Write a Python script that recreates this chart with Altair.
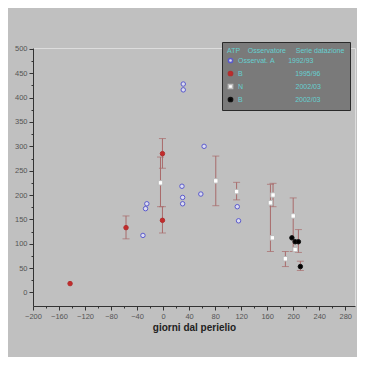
import altair as alt
import pandas as pd

series_names = [
    "Osservat.\u00a0A\u00a0\u00a0\u00a0\u00a0\u00a0\u00a0\u00a01992/93",
    "B\u00a0\u00a0\u00a0\u00a0\u00a0\u00a0\u00a0\u00a0\u00a0\u00a0\u00a0\u00a0\u00a0\u00a0\u00a0\u00a0\u00a0\u00a0\u00a0\u00a0\u00a0\u00a0\u00a0\u00a0\u00a0\u00a0\u00a01995/96",
    "N\u00a0\u00a0\u00a0\u00a0\u00a0\u00a0\u00a0\u00a0\u00a0\u00a0\u00a0\u00a0\u00a0\u00a0\u00a0\u00a0\u00a0\u00a0\u00a0\u00a0\u00a0\u00a0\u00a0\u00a0\u00a0\u00a0\u00a02002/03",
    "B\u00a0\u00a0\u00a0\u00a0\u00a0\u00a0\u00a0\u00a0\u00a0\u00a0\u00a0\u00a0\u00a0\u00a0\u00a0\u00a0\u00a0\u00a0\u00a0\u00a0\u00a0\u00a0\u00a0\u00a0\u00a0\u00a0\u00a02002/03",
]
legend_title = "ATP\u00a0\u00a0\u00a0\u00a0Osservatore\u00a0\u00a0\u00a0\u00a0\u00a0Serie\u00a0datazione"

# series 1: open blue circles (no error bars)
blue_x = [-31, -25, -27, 29, 30, 30, 31, 31, 58, 63, 114, 116]
blue_y = [117, 182, 172, 218, 195, 182, 428, 416, 202, 300, 176, 147]

# series 2: red filled circles
red_x = [-143, -57, -1, -1]
red_y = [18, 133, 285, 148]
red_lo = [18, 110, 255, 122]
red_hi = [18, 157, 316, 176]

# series 3: white squares
white_x = [-4, 81, 113, 165, 169, 168, 188, 200, 203]
white_y = [225, 229, 207, 184, 200, 112, 69, 157, 88]
white_lo = [176, 178, 190, 84, 176, 112, 53, 84, 88]
white_hi = [278, 280, 226, 222, 224, 112, 84, 194, 88]

# series 4: black filled circles
black_x = [198, 203, 208, 211]
black_y = [112, 104, 104, 53]
black_lo = [112, 104, 82, 45]
black_hi = [112, 104, 129, 64]

x_ticks = list(range(-200, 300, 20))
y_ticks = list(range(0, 525, 25))

rows = []
for x, y in zip(blue_x, blue_y):
    rows.append(dict(serie=series_names[0], x=x, y=y, lo=y, hi=y))
for x, y, lo, hi in zip(red_x, red_y, red_lo, red_hi):
    rows.append(dict(serie=series_names[1], x=x, y=y, lo=lo, hi=hi))
for x, y, lo, hi in zip(white_x, white_y, white_lo, white_hi):
    rows.append(dict(serie=series_names[2], x=x, y=y, lo=lo, hi=hi))
for x, y, lo, hi in zip(black_x, black_y, black_lo, black_hi):
    rows.append(dict(serie=series_names[3], x=x, y=y, lo=lo, hi=hi))
df = pd.DataFrame(rows)
err = df[df["lo"] != df["hi"]]

xs = alt.Scale(domain=[-200, 295], nice=False, zero=False)
ys = alt.Scale(domain=[-28, 502], nice=False, zero=False)

x_axis = alt.Axis(
    values=x_ticks, labelExpr="datum.value % 40 === 0 ? datum.label : ''",
    tickSize={"condition": {"test": "datum.value % 40 !== 0", "value": 2}, "value": 4},
    grid=False, title="giorni dal perielio", titleFontSize=10, titleFontWeight=600,
    titleColor="#222222", titlePadding=3, labelFontSize=7.5, labelColor="#555555",
    domainColor="#333333", tickColor="#333333", labelPadding=2,
    labelOverlap=False, labelFlush=False,
)
y_axis = alt.Axis(
    values=y_ticks, labelExpr="datum.value % 50 === 0 ? datum.label : ''",
    tickSize={"condition": {"test": "datum.value % 50 !== 0", "value": 2}, "value": 4},
    grid=False, title=None, labelFontSize=7.5, labelColor="#555555",
    domainColor="#333333", tickColor="#333333", labelPadding=2,
    labelOverlap=False, labelFlush=False,
)

base_err = alt.Chart(err)
rules = base_err.mark_rule(color="#a86a6a", strokeWidth=1).encode(
    x=alt.X("x:Q", scale=xs, axis=x_axis),
    y=alt.Y("lo:Q", scale=ys, axis=y_axis),
    y2="hi:Q",
)
cap_lo = base_err.mark_tick(color="#a86a6a", thickness=1, size=7, orient="horizontal").encode(
    x=alt.X("x:Q", scale=xs, axis=x_axis), y=alt.Y("lo:Q", scale=ys, axis=y_axis)
)
cap_hi = base_err.mark_tick(color="#a86a6a", thickness=1, size=7, orient="horizontal").encode(
    x=alt.X("x:Q", scale=xs, axis=x_axis), y=alt.Y("hi:Q", scale=ys, axis=y_axis)
)

leg = alt.Legend(
    orient="none", legendX=189, legendY=-6, title=legend_title,
    fillColor="#7a7a7a", strokeColor="#2a2a2a", padding=5,
    titleColor="#66d0d0", labelColor="#66d0d0", titleFontSize=7, labelFontSize=7,
    titleFontWeight="normal", symbolSize=18, rowPadding=2, labelLimit=200,
    titleLimit=200, titlePadding=3,
)
dom = series_names
points = alt.Chart(df).mark_point(size=20, strokeWidth=1, opacity=1).encode(
    x=alt.X("x:Q", scale=xs, axis=x_axis),
    y=alt.Y("y:Q", scale=ys, axis=y_axis),
    shape=alt.Shape("serie:N", scale=alt.Scale(domain=dom, range=["circle", "circle", "square", "circle"]), legend=leg),
    fill=alt.Fill("serie:N", scale=alt.Scale(domain=dom, range=["#dcdcf0", "#c42a2a", "#ffffff", "#000000"]), legend=leg),
    stroke=alt.Stroke("serie:N", scale=alt.Scale(domain=dom, range=["#5a5acc", "#b03030", "#bbbbbb", "#111111"]), legend=leg),
)

chart = alt.layer(rules, cap_lo, cap_hi, points).properties(
    width=322, height=258,
    autosize="none",
    padding={"left": 25, "top": 40, "right": 2, "bottom": 51},
    background="#c0c0c0",
).configure_view(stroke=None).configure(font="Liberation Sans").configure_axis(
    labelOverlap=False, labelFlush=False
)

chart.save("out.html", embed_options={"renderer": "svg", "actions": False})
